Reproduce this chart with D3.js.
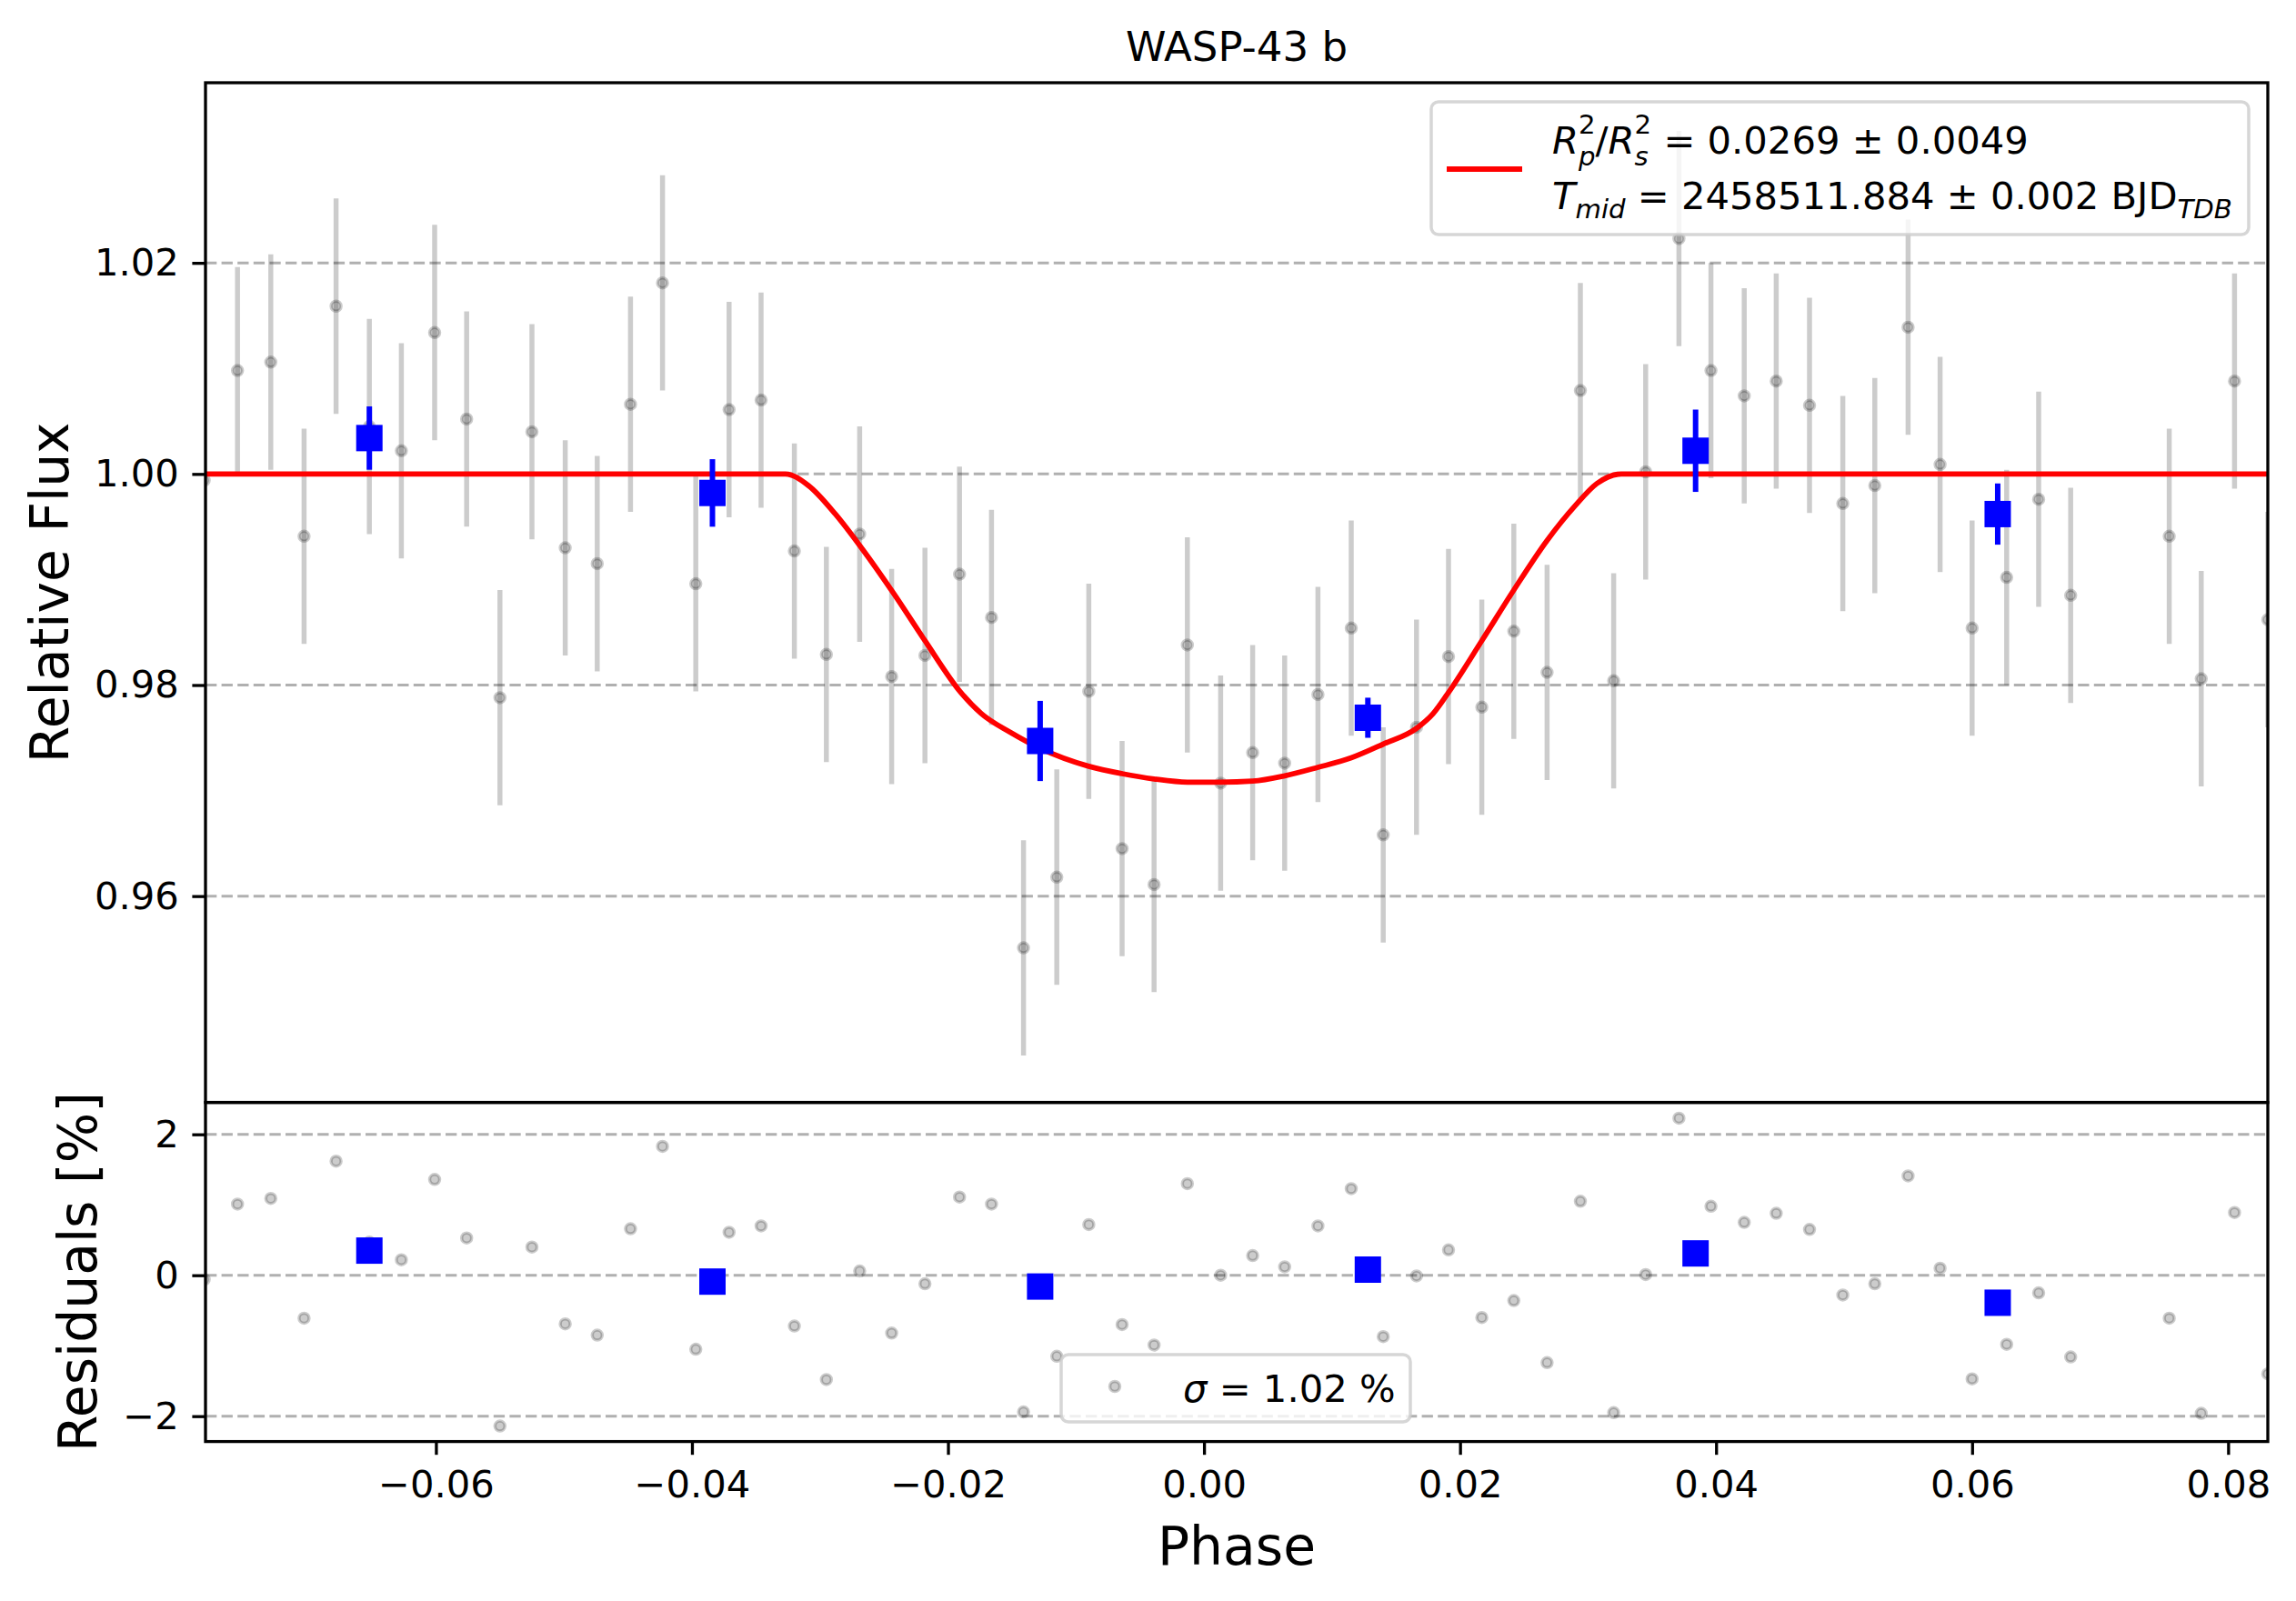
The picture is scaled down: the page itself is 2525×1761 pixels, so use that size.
<!DOCTYPE html>
<meta charset="utf-8">
<script src="https://d3js.org/d3.v7.min.js"></script>
<style>
  body { margin: 0; background: #fff; }
  svg { display: block; font-family: "DejaVu Sans", sans-serif; }
  text { white-space: pre; }
</style>
<div id="chart"></div>
<script>

// ---- data ----
const phase = [-0.0781, -0.0755, -0.0729, -0.0703, -0.0678, -0.0652, -0.0627, -0.0601, -0.0576, -0.0550,
  -0.0525, -0.0499, -0.0474, -0.0448, -0.0423, -0.0397, -0.0371, -0.0346, -0.0320, -0.0295,
  -0.0269, -0.0244, -0.0218, -0.0191, -0.0166, -0.0141, -0.0115, -0.0090, -0.0064, -0.0039,
  -0.0013, 0.0013, 0.0038, 0.0063, 0.0089, 0.0115, 0.0140, 0.0166, 0.0191, 0.0217,
  0.0242, 0.0268, 0.0294, 0.0320, 0.0345, 0.0371, 0.0396, 0.0422, 0.0447, 0.0473,
  0.0499, 0.0524, 0.0550, 0.0575, 0.0600, 0.0627, 0.0652, 0.0677, 0.0754, 0.0779,
  0.0805, 0.0831]
const flux = [0.9994, 1.0098, 1.0106, 0.9941, 1.0159, 1.0045, 1.0022, 1.0134, 1.0052, 0.9788,
  1.0040, 0.9930, 0.9915, 1.0066, 1.0181, 0.9896, 1.0061, 1.0070, 0.9927, 0.9829,
  0.9943, 0.9808, 0.9828, 0.9905, 0.9864, 0.9551, 0.9618, 0.9794, 0.9645, 0.9611,
  0.9838, 0.9707, 0.9736, 0.9726, 0.9791, 0.9854, 0.9658, 0.9760, 0.9827, 0.9779,
  0.9851, 0.9812, 1.0079, 0.9804, 1.0002, 1.0223, 1.0098, 1.0074, 1.0088, 1.0065,
  0.9972, 0.9989, 1.0139, 1.0009, 0.9854, 0.9902, 0.9976, 0.9885, 0.9941, 0.9806,
  1.0088, 0.9862]
const fluxErr = [0.0102, 0.0098, 0.0102, 0.0102, 0.0102, 0.0102, 0.0102, 0.0102, 0.0102, 0.0102,
  0.0102, 0.0102, 0.0102, 0.0102, 0.0102, 0.0102, 0.0102, 0.0102, 0.0102, 0.0102,
  0.0102, 0.0102, 0.0102, 0.0102, 0.0102, 0.0102, 0.0102, 0.0102, 0.0102, 0.0102,
  0.0102, 0.0102, 0.0102, 0.0102, 0.0102, 0.0102, 0.0102, 0.0102, 0.0102, 0.0102,
  0.0102, 0.0102, 0.0102, 0.0102, 0.0102, 0.0102, 0.0102, 0.0102, 0.0102, 0.0102,
  0.0102, 0.0102, 0.0102, 0.0102, 0.0102, 0.0102, 0.0102, 0.0102, 0.0102, 0.0102,
  0.0102, 0.0102]
// residuals in percent
const resid = [-0.06, 1.01, 1.09, -0.61, 1.62, 0.47, 0.22, 1.36, 0.53, -2.14,
  0.40, -0.69, -0.85, 0.66, 1.83, -1.05, 0.61, 0.70, -0.72, -1.48,
  0.06, -0.82, -0.12, 1.11, 1.01, -1.94, -1.15, 0.72, -0.70, -0.99,
  1.30, 0.00, 0.28, 0.12, 0.70, 1.23, -0.87, -0.01, 0.36, -0.60,
  -0.36, -1.24, 1.05, -1.95, 0.01, 2.23, 0.98, 0.75, 0.88, 0.65,
  -0.28, -0.12, 1.41, 0.10, -1.47, -0.98, -0.25, -1.16, -0.61, -1.96,
  0.89, -1.40]

// binned points
const binPhase = [-0.0652, -0.0384, -0.0128, 0.0128, 0.0384, 0.0620]
const binFlux = [1.0034, 0.9982, 0.9747, 0.9769, 1.0022, 0.9962]
const binErr = [0.0030, 0.0032, 0.0038, 0.0019, 0.0039, 0.0029]
const binResid = [0.35, -0.09, -0.16, 0.08, 0.31, -0.39]

// transit model, sampled along the red curve
const modelPhase = [-0.0781, -0.0327, -0.0309, -0.0288, -0.0267, -0.0242, -0.0218, -0.0190, -0.0174, -0.0151,
  -0.0128, -0.0090, -0.0064, -0.0039, -0.0013, 0.0013, 0.0038, 0.0063, 0.0089, 0.0115,
  0.0140, 0.0166, 0.0179, 0.0191, 0.0217, 0.0242, 0.0268, 0.0290, 0.0307, 0.0326, 0.0831]
const modelFlux = [1.0000, 1.0000, 0.9989, 0.9962, 0.9929, 0.9886, 0.9842, 0.9793, 0.9773, 0.9755,
  0.9740, 0.9723, 0.9716, 0.9711, 0.9708, 0.9708, 0.9709, 0.9714, 0.9722, 0.9731,
  0.9744, 0.9759, 0.9773, 0.9793, 0.9842, 0.9890, 0.9937, 0.9970, 0.9991, 1.0000, 1.0000]

const xTicks = [-0.06, -0.04, -0.02, 0.00, 0.02, 0.04, 0.06, 0.08]
const yTicksMain = [0.96, 0.98, 1.00, 1.02]
const yTicksRes = [-2, 0, 2]

// ---- layout ----
const width = 2525, height = 1761
const axL = 226, axR = 2494, axT = 91, axS = 1212.6, axB = 1585.6
const fs = 41.7, fsLabel = 58.3
const tickLen = 14.6

const svg = d3.select("#chart").append("svg")
  .attr("width", width).attr("height", height)

const x = d3.scaleLinear().domain([-0.0780, 0.0831]).range([axL, axR])
const yMain = d3.scaleLinear().domain([0.94045, 1.03707]).range([axS, axT])
const yRes = d3.scaleLinear().domain([-2.360, 2.453]).range([axB, axS])

const defs = svg.append("defs")
defs.append("clipPath").attr("id", "clipMain").append("rect")
  .attr("x", axL).attr("y", axT).attr("width", axR - axL).attr("height", axS - axT)
defs.append("clipPath").attr("id", "clipRes").append("rect")
  .attr("x", axL).attr("y", axS).attr("width", axR - axL).attr("height", axB - axS)

// dashed grid
function grid(ticks, scale) {
  svg.append("g").selectAll("line").data(ticks).join("line")
    .attr("x1", axL).attr("x2", axR)
    .attr("y1", d => scale(d)).attr("y2", d => scale(d))
    .attr("stroke", "#b0b0b0").attr("stroke-width", 3)
    .attr("stroke-dasharray", "12.3,5.3")
}
grid(yTicksMain, yMain)
grid(yTicksRes, yRes)

const pts = phase.map((p, i) => ({p: p, f: flux[i], e: fluxErr[i], r: resid[i]}))
const bins = binPhase.map((p, i) => ({p: p, f: binFlux[i], e: binErr[i], r: binResid[i]}))

// ---- top panel ----
const main = svg.append("g").attr("clip-path", "url(#clipMain)")

main.selectAll("line.err").data(pts).join("line")
  .attr("class", "err")
  .attr("x1", d => x(d.p)).attr("x2", d => x(d.p))
  .attr("y1", d => yMain(d.f - d.e)).attr("y2", d => yMain(d.f + d.e))
  .attr("stroke", "#000").attr("stroke-opacity", 0.2).attr("stroke-width", 5.5)

main.selectAll("circle.pt").data(pts).join("circle")
  .attr("class", "pt")
  .attr("cx", d => x(d.p)).attr("cy", d => yMain(d.f)).attr("r", 5.5)
  .attr("fill", "#000").attr("fill-opacity", 0.2)
  .attr("stroke", "#000").attr("stroke-opacity", 0.2).attr("stroke-width", 3.5)

const model = modelPhase.map((p, i) => [p, modelFlux[i]])
main.append("path")
  .datum(model)
  .attr("d", d3.line().x(d => x(d[0])).y(d => yMain(d[1])).curve(d3.curveMonotoneX))
  .attr("fill", "none").attr("stroke", "#ff0000").attr("stroke-width", 5.8)

main.selectAll("line.berr").data(bins).join("line")
  .attr("class", "berr")
  .attr("x1", d => x(d.p)).attr("x2", d => x(d.p))
  .attr("y1", d => yMain(d.f - d.e)).attr("y2", d => yMain(d.f + d.e))
  .attr("stroke", "#0000ff").attr("stroke-width", 6)

main.selectAll("rect.bin").data(bins).join("rect")
  .attr("class", "bin")
  .attr("x", d => x(d.p) - 14.5).attr("y", d => yMain(d.f) - 14.5)
  .attr("width", 29).attr("height", 29)
  .attr("fill", "#0000ff")

// ---- residual panel ----
const res = svg.append("g").attr("clip-path", "url(#clipRes)")

res.selectAll("circle").data(pts).join("circle")
  .attr("cx", d => x(d.p)).attr("cy", d => yRes(d.r)).attr("r", 5.5)
  .attr("fill", "#000").attr("fill-opacity", 0.2)
  .attr("stroke", "#000").attr("stroke-opacity", 0.2).attr("stroke-width", 3.5)

res.selectAll("rect").data(bins).join("rect")
  .attr("x", d => x(d.p) - 14.5).attr("y", d => yRes(d.r) - 14.5)
  .attr("width", 29).attr("height", 29)
  .attr("fill", "#0000ff")

// ---- axes ----
function styleAxis(g) {
  g.select(".domain").remove()
  g.selectAll(".tick line").attr("stroke", "#000").attr("stroke-width", 3.3)
  g.selectAll(".tick text").attr("fill", "#000")
    .style("font-size", fs + "px").style("font-family", "DejaVu Sans")
}

svg.append("g")
  .attr("transform", `translate(${axL},0)`)
  .call(d3.axisLeft(yMain).tickValues(yTicksMain).tickFormat(d3.format(".2f"))
    .tickSize(tickLen).tickPadding(14.6))
  .call(styleAxis)

svg.append("g")
  .attr("transform", `translate(${axL},0)`)
  .call(d3.axisLeft(yRes).tickValues(yTicksRes).tickFormat(d3.format("d"))
    .tickSize(tickLen).tickPadding(14.6))
  .call(styleAxis)

svg.append("g")
  .attr("transform", `translate(0,${axB})`)
  .call(d3.axisBottom(x).tickValues(xTicks).tickFormat(d3.format(".2f"))
    .tickSize(tickLen).tickPadding(17))
  .call(styleAxis)

// spines
svg.append("rect")
  .attr("x", axL).attr("y", axT).attr("width", axR - axL).attr("height", axS - axT)
  .attr("fill", "none").attr("stroke", "#000").attr("stroke-width", 3.3)
svg.append("rect")
  .attr("x", axL).attr("y", axS).attr("width", axR - axL).attr("height", axB - axS)
  .attr("fill", "none").attr("stroke", "#000").attr("stroke-width", 3.3)

// labels
svg.append("text")
  .attr("x", (axL + axR) / 2).attr("y", 67)
  .attr("text-anchor", "middle").style("font-size", "45px")
  .text("WASP-43 b")

svg.append("text")
  .attr("x", (axL + axR) / 2).attr("y", 1721)
  .attr("text-anchor", "middle").style("font-size", fsLabel + "px")
  .text("Phase")

svg.append("text")
  .attr("transform", `translate(75,${(axT + axS) / 2}) rotate(-90)`)
  .attr("text-anchor", "middle").style("font-size", fsLabel + "px")
  .text("Relative Flux")

svg.append("text")
  .attr("transform", `translate(106,${(axS + axB) / 2}) rotate(-90)`)
  .attr("text-anchor", "middle").style("font-size", fsLabel + "px")
  .text("Residuals [%]")

// ---- legends ----
// one text element per line, pieces as tspans; sub/superscripts can be stacked
function mathLine(g, x0, y0, size, pieces) {
  const txt = g.append("text")
  let cx = x0, lastStart = x0
  pieces.forEach(p => {
    const sc = p.sc || 1
    const t = txt.append("tspan")
      .attr("x", p.stack ? lastStart : cx)
      .attr("y", y0 + (p.dy || 0) * size)
      .style("font-size", size * sc + "px")
      .style("font-style", p.it ? "italic" : "normal")
      .text(p.s)
    const w = t.node().getComputedTextLength()
    if (p.stack) {
      cx = Math.max(cx, lastStart + w)
    } else {
      lastStart = cx
      cx += w
    }
  })
}

const leg1 = svg.append("g")
leg1.append("rect")
  .attr("x", 1574).attr("y", 112).attr("width", 899).attr("height", 146).attr("rx", 8)
  .attr("fill", "#fff").attr("fill-opacity", 0.8)
  .attr("stroke", "#cccccc").attr("stroke-opacity", 0.8).attr("stroke-width", 3.5)
leg1.append("line")
  .attr("x1", 1591).attr("x2", 1674).attr("y1", 186).attr("y2", 186)
  .attr("stroke", "#ff0000").attr("stroke-width", 5.8)
mathLine(leg1, 1707, 169, fs, [
  {s: "R", it: true}, {s: "2", sc: 0.7, dy: -0.52}, {s: "p", it: true, sc: 0.7, dy: 0.32, stack: true},
  {s: "/"},
  {s: "R", it: true}, {s: "2", sc: 0.7, dy: -0.52}, {s: "s", it: true, sc: 0.7, dy: 0.32, stack: true},
  {s: " = 0.0269 \u00b1 0.0049"}
])
mathLine(leg1, 1707, 230, fs, [
  {s: "T", it: true}, {s: "mid", it: true, sc: 0.7, dy: 0.24},
  {s: " = 2458511.884 \u00b1 0.002 BJD"},
  {s: "TDB", it: true, sc: 0.7, dy: 0.24}
])

const leg2 = svg.append("g")
leg2.append("rect")
  .attr("x", 1167).attr("y", 1490).attr("width", 384).attr("height", 74).attr("rx", 8)
  .attr("fill", "#fff").attr("fill-opacity", 0.8)
  .attr("stroke", "#cccccc").attr("stroke-opacity", 0.8).attr("stroke-width", 3.5)
leg2.append("circle")
  .attr("cx", 1226).attr("cy", 1525).attr("r", 5.5)
  .attr("fill", "#000").attr("fill-opacity", 0.2)
  .attr("stroke", "#000").attr("stroke-opacity", 0.2).attr("stroke-width", 3.5)
mathLine(leg2, 1301, 1542, fs, [
  {s: "\u03c3", it: true}, {s: " = 1.02 %"}
])

</script>
